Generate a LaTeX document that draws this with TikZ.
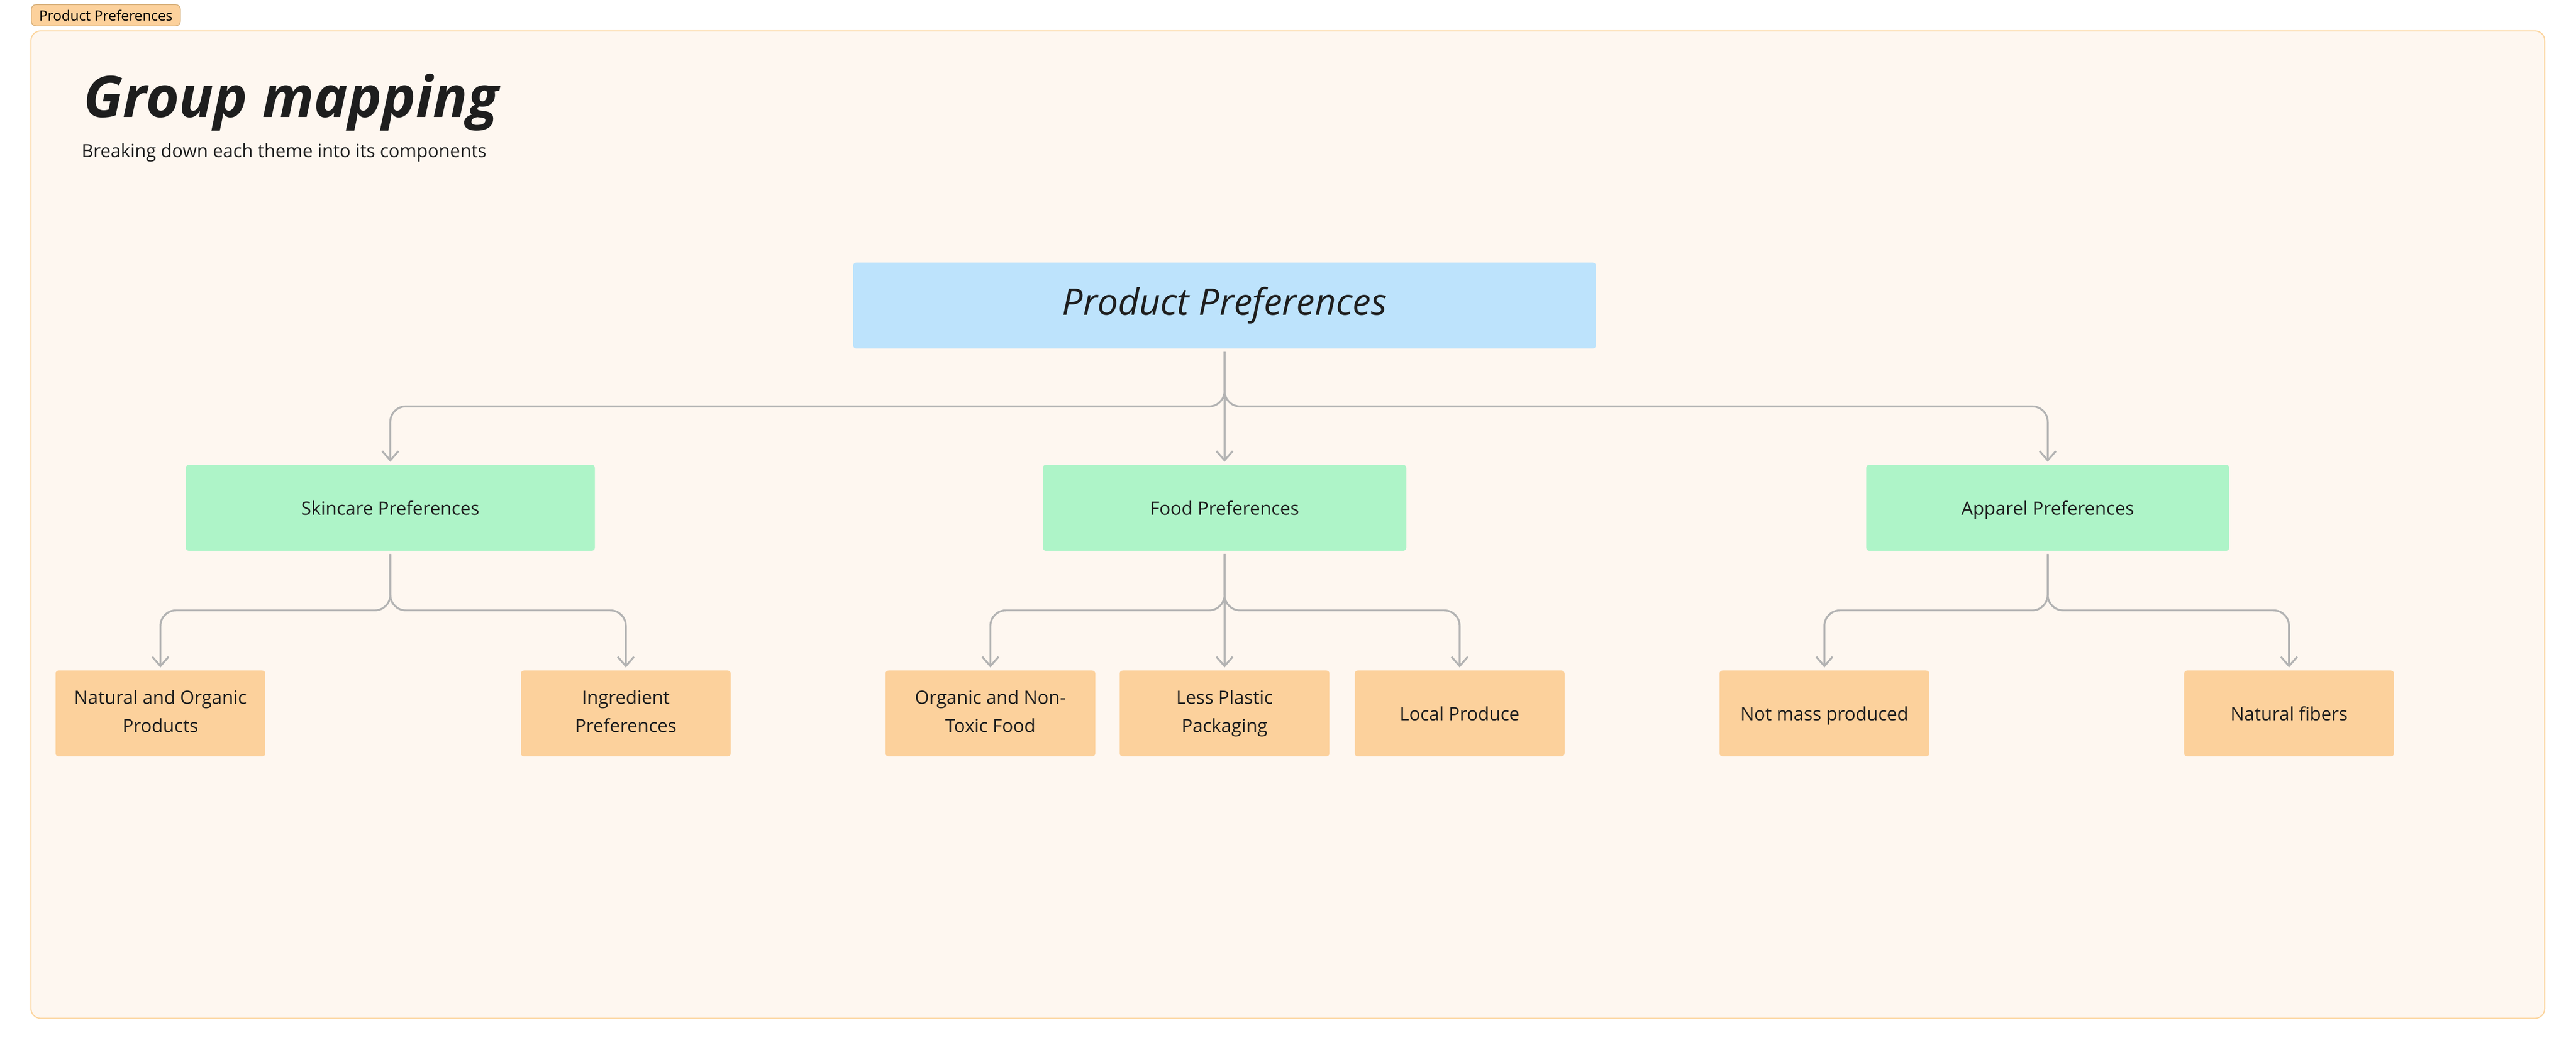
\documentclass[tikz,border=0pt]{standalone}
\usepackage{fontspec}
\setmainfont{Open Sans}
\usetikzlibrary{arrows.meta}
\definecolor{framefill}{HTML}{FEF7F0}
\definecolor{frameline}{HTML}{FCD59E}
\definecolor{rootfill}{HTML}{BDE3FC}
\definecolor{themefill}{HTML}{AEF4C8}
\definecolor{leaffill}{HTML}{FCD19C}
\definecolor{tagline}{HTML}{D9B37F}
\definecolor{linkgray}{HTML}{B3B3B3}
\definecolor{ink}{HTML}{1E1E1E}

\begin{document}
\begin{tikzpicture}[mybox/.style={rectangle, rounded corners=0.08cm, inner sep=0pt, minimum height=2.22cm, align=center, text=ink, font=\fontsize{13.5}{20.5}\selectfont},
	mytext/.style={execute at begin node=\rule{0pt}{13.7pt}, execute at end node=\rule[-3.3pt]{0pt}{3.3pt}},
	mytheme/.style={mybox, mytext, fill=themefill, minimum width=#1},
	myleaf/.style={mybox, mytext, fill=leaffill, minimum width=5.42cm},
	mylink/.style={draw=linkgray, line width=1.4pt, rounded corners=0.4cm, -{Straight Barb[length=2.4mm,width=4.2mm]}, shorten <=0.8mm, shorten >=0.7mm}]
\fill[white] (0,0) rectangle (66.56,27.12);
\useasboundingbox (0,0) rectangle (66.56,27.12);
\draw[draw=frameline, fill=framefill, line width=0.8pt, rounded corners=0.25cm] (0.80,0.81) rectangle (65.75,26.32);

\node[fill=leaffill, draw=tagline, line width=0.6pt, rounded corners=0.12cm, minimum width=3.85cm, minimum height=0.55cm, inner sep=0pt, font=\fontsize{10.4}{12}\selectfont] (tag) at (2.735,26.725) {Product Preferences};
\node[anchor=base west, inner sep=0pt, text=ink, font=\fontsize{42}{46}\selectfont\bfseries\itshape] (title) at (2.15,24.09) {Group mapping};
\node[anchor=base west, inner sep=0pt, text=ink, font=\fontsize{13.4}{16}\selectfont] (subtitle) at (2.10,23.05) {Breaking down each theme into its components};

\node[mybox, fill=rootfill, minimum width=19.19cm, font=\fontsize{27}{30}\selectfont\itshape] (root) at (31.64,19.225) {Product Preferences};

\node[mytheme=10.57cm] (skin) at (10.085,14.00) {Skincare Preferences};
\node[mytheme=9.39cm] (food) at (31.64,14.00) {Food Preferences};
\node[mytheme=9.38cm] (apparel) at (52.91,14.00) {Apparel Preferences};

\node[myleaf] (natural) at (4.145,8.685) {Natural and Organic\\Products};
\node[myleaf] (ingredient) at (16.17,8.685) {Ingredient\\Preferences};
\node[myleaf] (organic) at (25.59,8.685) {Organic and Non-\\Toxic Food};
\node[myleaf] (plastic) at (31.64,8.685) {Less Plastic\\Packaging};
\node[myleaf] (local) at (37.715,8.685) {Local Produce};
\node[myleaf] (mass) at (47.14,8.685) {Not mass produced};
\node[myleaf] (fibers) at (59.145,8.685) {Natural fibers};

\coordinate (rootbar) at (31.64,16.62);
\coordinate (skinbar) at (10.085,11.35);
\coordinate (foodbar) at (31.64,11.35);
\coordinate (apparelbar) at (52.91,11.35);

\draw[mylink] (root.south) -- (rootbar) -| (skin.north);
\draw[mylink] (root.south) -- (food.north);
\draw[mylink] (root.south) -- (rootbar) -| (apparel.north);

\draw[mylink] (skin.south) -- (skinbar) -| (natural.north);
\draw[mylink] (skin.south) -- (skinbar) -| (ingredient.north);

\draw[mylink] (food.south) -- (foodbar) -| (organic.north);
\draw[mylink] (food.south) -- (plastic.north);
\draw[mylink] (food.south) -- (foodbar) -| (local.north);

\draw[mylink] (apparel.south) -- (apparelbar) -| (mass.north);
\draw[mylink] (apparel.south) -- (apparelbar) -| (fibers.north);

\end{tikzpicture}
\end{document}
